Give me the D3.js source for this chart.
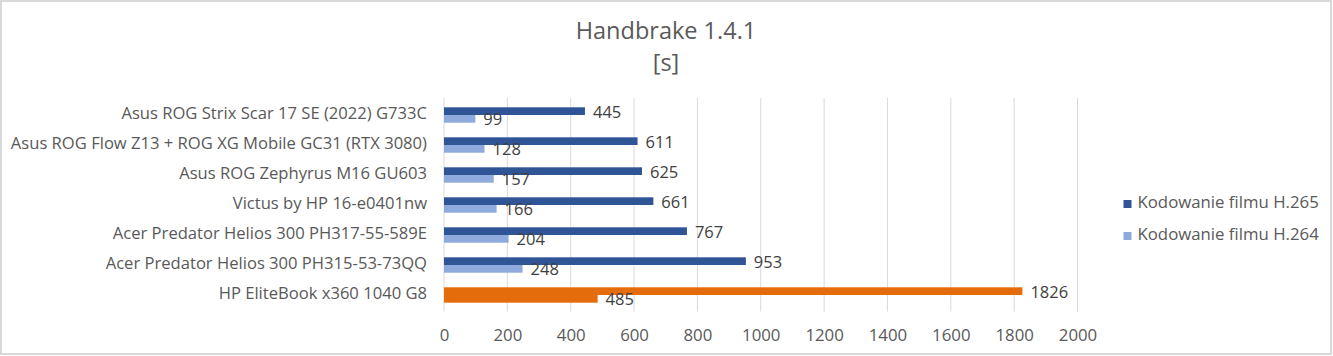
<!DOCTYPE html>
<html><head><meta charset="utf-8">
<script src="https://cdn.jsdelivr.net/npm/d3@7"></script>
<style>
html,body{margin:0;padding:0;background:#fff;}
svg{display:block;}
text{font-family:"Open Sans","Liberation Sans",sans-serif;}
</style></head>
<body>
<svg id="c" width="1333" height="356"></svg>
<script>
const categories = [
  "Asus ROG Strix Scar 17 SE (2022) G733C",
  "Asus ROG Flow Z13 + ROG XG Mobile GC31 (RTX 3080)",
  "Asus ROG Zephyrus M16 GU603",
  "Victus by HP 16-e0401nw",
  "Acer Predator Helios 300 PH317-55-589E",
  "Acer Predator Helios 300 PH315-53-73QQ",
  "HP EliteBook x360 1040 G8"
];
const h265 = [445, 611, 625, 661, 767, 953, 1826];
const h264 = [99, 128, 157, 166, 204, 248, 485];
const seriesNames = ["Kodowanie filmu H.265", "Kodowanie filmu H.264"];
const highlighted = ["HP EliteBook x360 1040 G8"];
const xTicks = [0, 200, 400, 600, 800, 1000, 1200, 1400, 1600, 1800, 2000];
const titleLines = ["Handbrake 1.4.1", "[s]"];

const colors = ["#2F5597", "#8FAADC"];
const hlColor = "#E46C0A";
const textCol = "#595959";
const FONT = '"Open Sans","Liberation Sans",sans-serif';

const svg = d3.select("#c");
// frame
svg.append("rect").attr("x",1).attr("y",1).attr("width",1330).attr("height",353)
  .attr("fill","#fff").attr("stroke","#D9D9D9").attr("stroke-width",2);

const x = d3.scaleLinear().domain([0, 2000]).range([444, 1077.5]);
const y = d3.scaleBand().domain(categories).range([100, 310]).paddingInner(0.487).paddingOuter(0.2435);
const sub = d3.scaleBand().domain([0,1]).range([0, y.bandwidth()]);

// gridlines
svg.append("g").selectAll("line").data(xTicks).join("line")
  .attr("x1", d=>x(d)).attr("x2", d=>x(d)).attr("y1", 98).attr("y2", 311.5)
  .attr("stroke", "#D9D9D9").attr("stroke-width", 1);

// axis labels
const xAxis = d3.axisBottom(x).tickValues(xTicks).tickSize(0).tickPadding(0).tickFormat(d3.format("d"));
const ga = svg.append("g").attr("transform","translate(0,341)").call(xAxis);
ga.select(".domain").remove();
ga.selectAll("text").attr("fill", textCol).style("font-size","16.8px")
  .style("font-family", FONT).attr("dy", null).attr("y", 0);

// category labels
svg.append("g").selectAll("text").data(categories).join("text")
  .attr("x", 427).attr("y", d=>y(d)+y.bandwidth()/2+4)
  .attr("text-anchor","end")
  .attr("fill", textCol).style("font-size","16.6px")
  .text(d=>d);

const series = [h265, h264];
series.forEach((vals, si) => {
  const g = svg.append("g");
  g.selectAll("rect").data(categories).join("rect")
    .attr("x", x(0))
    .attr("y", d => y(d) + sub(si))
    .attr("width", (d,i) => x(vals[i]) - x(0))
    .attr("height", sub.bandwidth())
    .attr("fill", d => highlighted.includes(d) ? hlColor : colors[si]);
  g.selectAll("text").data(categories).join("text")
    .attr("x", (d,i) => x(vals[i]) + 8)
    .attr("y", d => y(d) + sub(si) + sub.bandwidth()/2 + 6.5)
    .attr("fill", "#404040").style("font-size","16.5px")
    .text((d,i) => vals[i]);
});

// legend
const lg = svg.append("g");
seriesNames.forEach((n, i) => {
  const base = 208.3 + i*32;
  lg.append("rect").attr("x",1123.5).attr("y",base-8.3).attr("width",8).attr("height",8).attr("fill",colors[i]);
  lg.append("text").attr("x",1137.5).attr("y",base)
    .attr("fill",textCol).style("font-size","16.8px").text(n);
});

// title
svg.append("g").selectAll("text").data(titleLines).join("text")
  .attr("x", 666).attr("y", (d,i)=> 39 + i*31.5).attr("text-anchor","middle")
  .attr("fill", textCol).style("font-size","23.5px")
  .text(d=>d);
</script>
</body></html>
